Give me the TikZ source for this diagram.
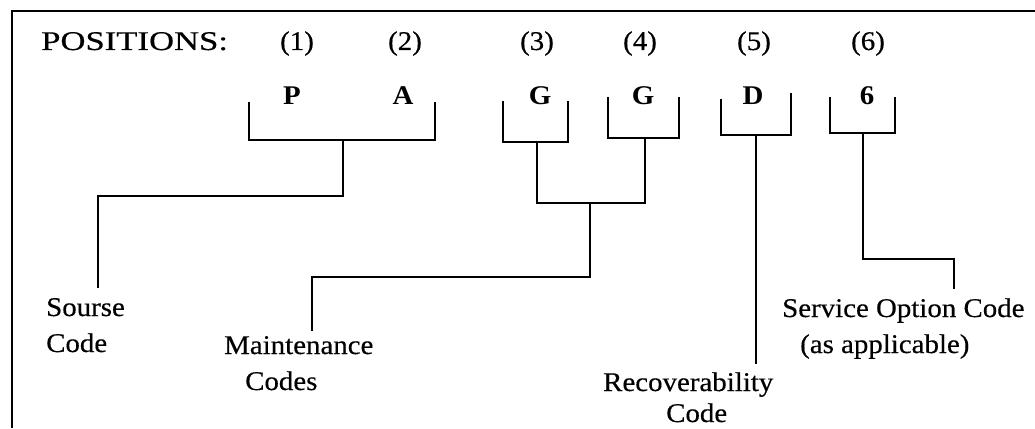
\documentclass[tikz,border=0pt]{standalone}
\usepackage{fontspec}
\setmainfont{Liberation Serif}[FakeStretch=1.07, UprightFeatures={FakeBold=0.4}]
\begin{document}
\begin{tikzpicture}[x=1pt,y=-1pt,
  ln/.style={line width=1.9pt, line cap=rect},
  frm/.style={line width=2pt},
  lbl/.style={font=\fontsize{27}{32}\selectfont, inner sep=0pt, anchor=base west},
  num/.style={font=\fontsize{27}{32}\selectfont, inner sep=0pt, anchor=base},
  letter/.style={font=\fontsize{27}{32}\selectfont\bfseries, inner sep=0pt, anchor=base}]
\useasboundingbox (0,0) rectangle (1035,428);
% open frame
\coordinate (fbl) at (12,428);
\coordinate (ftl) at (12,11);
\coordinate (ftr) at (1035,11);
\draw[frm] (fbl) -- (ftl) -- (ftr);

% header
\node[lbl] (pos) at (41,50) {\scalebox{1.2}[1]{POSITIONS:}};
\node[num] (n1) at (297,50) {(1)};
\node[num] (n2) at (405,50) {(2)};
\node[num] (n3) at (537,50) {(3)};
\node[num] (n4) at (640,50) {(4)};
\node[num] (n5) at (754,50) {(5)};
\node[num] (n6) at (868,50) {(6)};

% code letters
\node[letter] (lP) at (292,104) {P};
\node[letter] (lA) at (403,104) {A};
\node[letter] (lG1) at (540,104) {G};
\node[letter] (lG2) at (643,104) {G};
\node[letter] (lD) at (753,104) {D};
\node[letter] (l6) at (867,104) {6};

% brackets
\draw[ln] (249,103) -- (249,140) -- (435,140) -- (435,103);
\draw[ln] (503,102) -- (503,142) -- (568,142) -- (568,102);
\draw[ln] (608,98) -- (608,138) -- (679,138) -- (679,98);
\draw[ln] (721,100) -- (721,135) -- (791,135) -- (791,94);
\draw[ln] (830,98) -- (830,133) -- (895,133) -- (895,98);

% stem points
\coordinate (pa) at (343,140);
\coordinate (g1) at (537,142);
\coordinate (g2) at (645,138);
\coordinate (dd) at (756,135);
\coordinate (s6) at (863,133);

% labels
\node[lbl] (src1) at (46,316) {Sourse};
\node[lbl] (src2) at (46,352) {Code};
\node[lbl] (mnt1) at (224,354) {Maintenance};
\node[lbl] (mnt2) at (245,390) {Codes};
\node[lbl] (rec1) at (603,391) {Recoverability};
\node[lbl] (rec2) at (666,422) {Code};
\node[lbl] (svc1) at (782,317) {Service Option Code};
\node[lbl] (svc2) at (800,353) {(as applicable)};

% connector ends
\coordinate (srcend) at (98,287);
\coordinate (mntend) at (312,330);
\coordinate (recend) at (756,363);
\coordinate (svcend) at (954,288);
\coordinate (gj) at (590,203);

% connectors
\draw[ln] (pa) -- (343,196) -- (98,196) -- (srcend);
\draw[ln] (g1) |- (gj) -| (g2);
\draw[ln] (gj) -- (590,277) -- (312,277) -- (mntend);
\draw[ln] (dd) -- (recend);
\draw[ln] (s6) -- (863,259) -- (954,259) -- (svcend);
\end{tikzpicture}
\end{document}
